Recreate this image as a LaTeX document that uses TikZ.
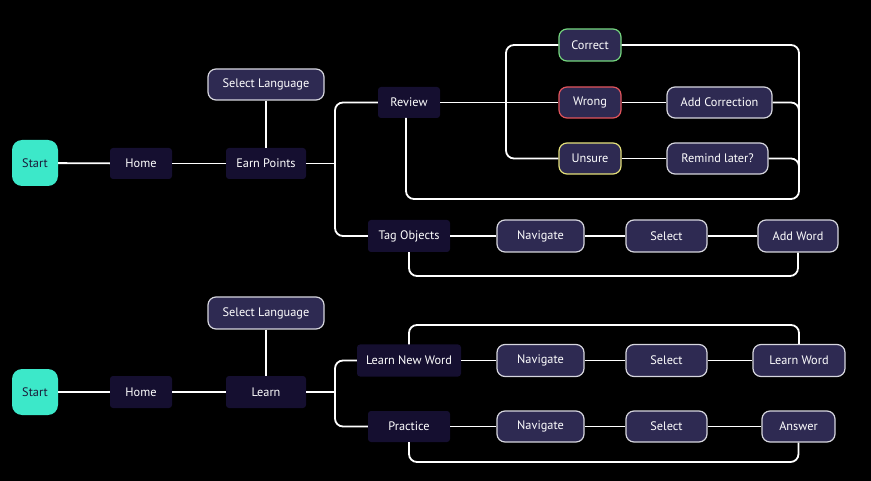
\documentclass[tikz,border=0pt]{standalone}
\usepackage{fontspec}
\setmainfont{PT Sans}
\definecolor{startfill}{HTML}{3CE8C9}
\definecolor{starttext}{HTML}{1B1838}
\definecolor{darknode}{HTML}{150F30}
\definecolor{lightnode}{HTML}{2E2A52}
\definecolor{nodeborder}{HTML}{D6D6DE}
\definecolor{okgreen}{HTML}{74D67E}
\definecolor{badred}{HTML}{E2545C}
\definecolor{unsureyellow}{HTML}{E4E07A}
\begin{document}
\begin{tikzpicture}[x=1pt,y=-1pt,
  conn/.style={draw=white, line width=1.8pt, rounded corners=8pt},
  base/.style={inner sep=0pt, text=white, font=\fontsize{12.3}{14}\selectfont},
  dark/.style={base, fill=darknode, rounded corners=3pt},
  light/.style={base, fill=lightnode, draw=nodeborder, line width=1.2pt, rounded corners=8pt},
  startn/.style={base, fill=startfill, text=starttext, rounded corners=10pt, minimum width=46pt, minimum height=46pt},
  sz/.style 2 args={minimum width=#1pt, minimum height=#2pt}
]
\fill[black] (0,0) rectangle (871,481);
\useasboundingbox (0,0) rectangle (871,481);

% ---------- top flow ----------
\node[startn] (start1) at (35,163) {Start};
\node[dark, sz={62}{31}] (home1) at (141,163.5) {Home};
\node[dark, sz={80}{31}] (earn) at (266,163.5) {Earn Points};
\node[light, sz={116}{31}] (sl1) at (266,84.5) {Select Language};
\node[dark, sz={62}{31}] (review) at (409,102.5) {Review};
\node[light, draw=okgreen, sz={62}{32}] (correct) at (590,45) {Correct};
\node[light, draw=badred, sz={62}{31}] (wrong) at (590,102.5) {Wrong};
\node[light, draw=unsureyellow, sz={62}{31}] (unsure) at (590,158.5) {Unsure};
\node[light, sz={105}{31}] (addcorr) at (719.5,102.5) {Add Correction};
\node[light, sz={101}{31}] (remind) at (717.5,158.5) {Remind later?};
\node[dark, sz={82}{32}] (tag) at (409,236) {Tag Objects};
\node[light, sz={87}{32}] (nav1) at (540.5,236) {Navigate};
\node[light, sz={81}{32}] (selA) at (666.5,236) {Select};
\node[light, sz={80}{32}] (addword) at (798,236) {Add Word};

\coordinate (j1) at (335,163.5);
\coordinate (j2) at (506,102.5);
\coordinate (r1) at (799,199);
\coordinate (r2) at (799,135);
\coordinate (r3) at (799,190);
\coordinate (rv) at (406,118);
\coordinate (t1) at (600,276);

\draw[conn] (start1) -- (home1);
\draw[conn] (home1) -- (earn);
\draw[conn] (sl1) -- (earn);
\draw[conn] (earn) -- (j1);
\draw[conn] (review.west) -| (j1) |- (tag.west);
\draw[conn] (review) -- (wrong);
\draw[conn] (correct.west) -| (j2) |- (unsure.west);
\draw[conn] (wrong) -- (addcorr);
\draw[conn] (unsure) -- (remind);
\draw[conn] (correct.east) -| (r1) -| (rv);
\draw[conn] (addcorr.east) -| (r2);
\draw[conn] (remind.east) -| (r3);
\draw[conn] (tag) -- (nav1);
\draw[conn] (nav1) -- (selA);
\draw[conn] (selA) -- (addword);
\draw[conn] (tag.south) |- (t1) -| (addword.south);

% ---------- bottom flow ----------
\node[startn] (start2) at (35,392) {Start};
\node[dark, sz={62}{32}] (home2) at (141,392) {Home};
\node[dark, sz={80}{32}] (learn) at (266,392) {Learn};
\node[light, sz={116}{32}] (sl2) at (266,313) {Select Language};
\node[dark, sz={104}{32}] (lnw) at (409,360.5) {Learn New Word};
\node[light, sz={87}{32}] (nav2) at (540.5,360.5) {Navigate};
\node[light, sz={81}{32}] (selB) at (666.5,360.5) {Select};
\node[light, sz={92}{32}] (lword) at (799,360.5) {Learn Word};
\node[dark, sz={82}{31}] (practice) at (409,426.5) {Practice};
\node[light, sz={87}{31}] (nav3) at (540.5,426.5) {Navigate};
\node[light, sz={81}{31}] (selC) at (666.5,426.5) {Select};
\node[light, sz={73}{31}] (answer) at (798.5,426.5) {Answer};

\coordinate (j3) at (335,392);
\coordinate (b1) at (600,325);
\coordinate (b2) at (600,462);

\draw[conn] (start2) -- (home2);
\draw[conn] (home2) -- (learn);
\draw[conn] (sl2) -- (learn);
\draw[conn] (learn) -- (j3);
\draw[conn] (lnw.west) -| (j3) |- (practice.west);
\draw[conn] (lnw) -- (nav2);
\draw[conn] (nav2) -- (selB);
\draw[conn] (selB) -- (lword);
\draw[conn] (lnw.north) |- (b1) -| (lword.north);
\draw[conn] (practice) -- (nav3);
\draw[conn] (nav3) -- (selC);
\draw[conn] (selC) -- (answer);
\draw[conn] (practice.south) |- (b2) -| (answer.south);
\end{tikzpicture}
\end{document}
